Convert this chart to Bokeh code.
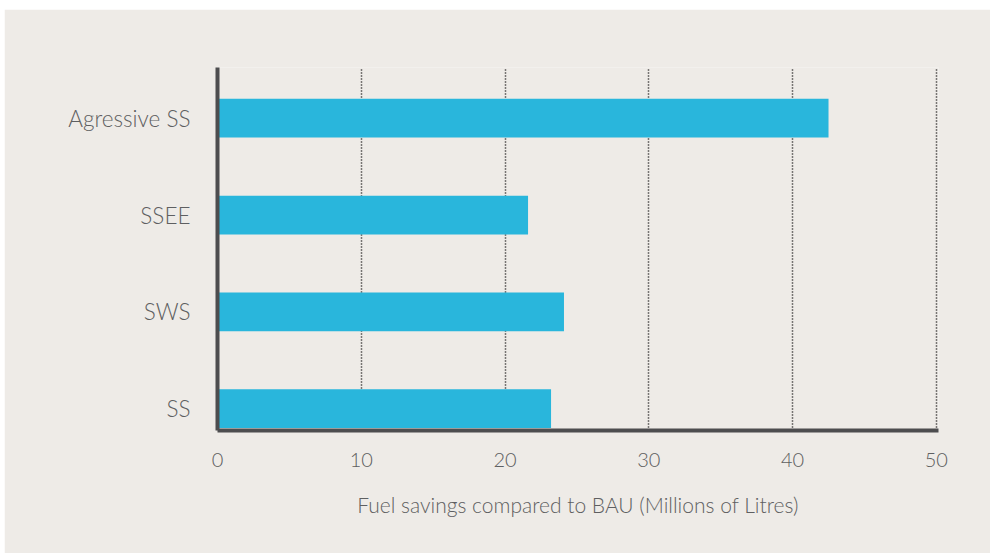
from bokeh.plotting import figure
from bokeh.models import ColumnDataSource, FixedTicker, Range1d
from bokeh.embed import file_html
from bokeh.resources import INLINE

categories = ["SS", "SWS", "SSEE", "Agressive SS"]
savings = [23.2, 24.1, 21.6, 42.5]
x_ticks = [0, 10, 20, 30, 40, 50]

positions = list(range(len(categories)))
src = ColumnDataSource(dict(y=positions, right=savings, cat=categories))

BG = "#eeebe7"
TXT = "#5e5f61"
AX = "#4d4d4f"
FONT = "'Lato Light', Lato"

p = figure(width=986, height=544, output_backend="svg", toolbar_location=None,
           x_range=Range1d(0, 50.15), y_range=Range1d(-0.226, 3.524),
           background_fill_color=BG, border_fill_color=BG,
           min_border_left=213, min_border_right=52, min_border_top=58, min_border_bottom=123)
p.margin = (9, 0, 0, 4)
p.outline_line_color = None

p.hbar(y="y", right="right", left=0, height=0.4, source=src, color="#29b6dc", line_color=None)

p.xaxis.ticker = FixedTicker(ticks=x_ticks)
p.yaxis.ticker = FixedTicker(ticks=positions)
p.yaxis.major_label_overrides = {i: c for i, c in enumerate(categories)}

for ax in (p.xaxis[0], p.yaxis[0]):
    ax.axis_line_color = AX
    ax.axis_line_width = 4
    ax.major_tick_line_color = None
    ax.minor_tick_line_color = None
    ax.major_label_text_font = FONT
    ax.major_label_text_color = TXT

p.xaxis.major_label_text_font_size = "20px"
p.yaxis.major_label_text_font_size = "22.5px"
p.xaxis.major_label_standoff = 16
p.yaxis.major_label_standoff = 21
p.xaxis.axis_label = "Fuel savings compared to BAU (Millions of Litres)"
p.xaxis.axis_label_text_font = FONT
p.xaxis.axis_label_text_font_size = "21px"
p.xaxis.axis_label_text_font_style = "normal"
p.xaxis.axis_label_text_color = TXT
p.xaxis.axis_label_standoff = 22

p.ygrid.grid_line_color = None
p.xgrid.ticker = FixedTicker(ticks=[10, 20, 30, 40, 50])
p.xgrid.grid_line_color = "#000000"
p.xgrid.grid_line_dash = "1 2"
p.xgrid.grid_line_width = 1.5

open("out.html", "w").write(file_html(p, INLINE))
